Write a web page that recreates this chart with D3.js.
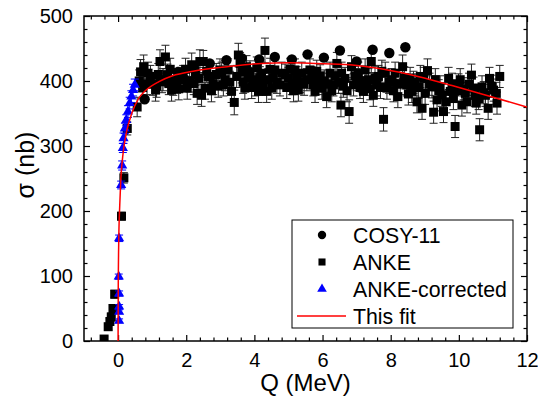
<!DOCTYPE html>
<html lang="en">
<head>
<meta charset="UTF-8">
<title>Cross section vs Q</title>
<script src="https://cdn.jsdelivr.net/npm/d3@7"></script>
<style>
  body { margin: 0; background: #fff; }
  svg text { font-family: "Liberation Sans", Arial, sans-serif; fill: #000; }
</style>
</head>
<body>
<div id="chart"></div>
<script>
// [Q (MeV), sigma (nb), error (nb)]
const cosyData = [
  [0.78, 372], [1.26, 400], [1.76, 414], [2.23, 420], [2.69, 427], [3.18, 432],
  [3.63, 435], [4.14, 433], [4.6, 437], [5.1, 433], [5.56, 441], [6.04, 436],
  [6.51, 447], [7.0, 430], [7.47, 448], [7.96, 443], [8.43, 452]
];

const ankeData = [
  [-0.41, 3, 4], [-0.29, 22, 5], [-0.24, 30, 5], [-0.2, 37, 6], [-0.15, 50, 6], [-0.1, 72, 6],
  [0.1, 192, 6], [0.17, 251, 8], [0.27, 327, 10], [0.56, 360, 15], [0.62, 400, 17],
  [0.66, 414, 19], [0.72, 390, 17], [0.75, 422, 18], [0.85, 396, 17], [0.88, 412, 17],
  [0.95, 407, 17], [1.02, 395, 17], [1.1, 386, 17], [1.13, 392, 17], [1.18, 410, 17],
  [1.23, 430, 18], [1.29, 399, 17], [1.32, 402, 17], [1.39, 437, 18], [1.45, 409, 17],
  [1.49, 396, 17], [1.53, 418, 17], [1.57, 386, 17], [1.62, 395, 17], [1.67, 402, 17],
  [1.73, 398, 17], [1.78, 388, 17], [1.83, 404, 17], [1.91, 407, 17], [1.93, 402, 17],
  [1.98, 418, 17], [2.03, 389, 17], [2.1, 400, 17], [2.16, 425, 18], [2.22, 396, 17],
  [2.27, 410, 17], [2.32, 381, 17], [2.37, 404, 17], [2.4, 430, 18], [2.45, 378, 17],
  [2.5, 430, 17], [2.55, 389, 17], [2.6, 415, 17], [2.64, 407, 17], [2.69, 407, 17],
  [2.74, 385, 17], [2.79, 396, 17], [2.88, 410, 17], [2.94, 392, 17], [2.99, 417, 17],
  [3.04, 412, 17], [3.09, 394, 17], [3.14, 402, 17], [3.23, 417, 17], [3.28, 398, 17],
  [3.33, 384, 17], [3.41, 367, 19], [3.48, 407, 17], [3.53, 440, 18], [3.58, 427, 17],
  [3.63, 414, 17], [3.67, 398, 17], [3.72, 389, 17], [3.77, 422, 17], [3.82, 404, 17],
  [3.87, 414, 17], [3.92, 390, 17], [3.97, 402, 17], [4.02, 394, 17], [4.07, 420, 17],
  [4.12, 384, 17], [4.16, 405, 17], [4.21, 412, 17], [4.26, 395, 17], [4.31, 447, 19],
  [4.36, 384, 17], [4.41, 402, 17], [4.46, 418, 17], [4.51, 389, 17], [4.55, 405, 17],
  [4.6, 417, 17], [4.66, 398, 17], [4.75, 394, 17], [4.8, 412, 17], [4.9, 409, 17],
  [4.95, 390, 17], [5.0, 404, 17], [5.05, 418, 17], [5.1, 396, 17], [5.15, 385, 17],
  [5.19, 417, 17], [5.24, 405, 17], [5.29, 386, 17], [5.34, 399, 17], [5.39, 412, 17],
  [5.46, 395, 17], [5.54, 402, 17], [5.63, 417, 17], [5.68, 405, 17], [5.73, 394, 17],
  [5.78, 384, 17], [5.83, 415, 17], [5.88, 396, 17], [5.93, 408, 17], [5.98, 389, 17],
  [6.05, 400, 17], [6.12, 376, 17], [6.17, 395, 17], [6.22, 412, 17], [6.27, 385, 17],
  [6.32, 394, 17], [6.37, 408, 17], [6.42, 427, 17], [6.47, 398, 17], [6.54, 363, 18],
  [6.56, 412, 17], [6.61, 392, 17], [6.66, 404, 17], [6.72, 385, 17], [6.78, 353, 18],
  [6.85, 422, 17], [6.91, 394, 17], [6.95, 408, 17], [7.0, 402, 17], [7.05, 412, 17],
  [7.1, 390, 17], [7.15, 400, 17], [7.2, 384, 17], [7.25, 417, 17], [7.3, 395, 17],
  [7.35, 402, 17], [7.4, 388, 17], [7.43, 430, 17], [7.49, 378, 17], [7.54, 405, 17],
  [7.59, 394, 17], [7.64, 407, 17], [7.7, 390, 17], [7.74, 415, 17], [7.79, 341, 18],
  [7.84, 412, 17], [7.89, 389, 17], [7.95, 398, 17], [8.03, 402, 17], [8.08, 385, 17],
  [8.13, 412, 17], [8.18, 395, 17], [8.21, 376, 17], [8.28, 396, 17], [8.35, 422, 18],
  [8.4, 405, 17], [8.47, 394, 17], [8.52, 380, 17], [8.57, 404, 17], [8.62, 384, 17],
  [8.67, 398, 17], [8.72, 394, 17], [8.77, 368, 17], [8.82, 390, 17], [8.87, 407, 17],
  [8.92, 358, 17], [8.97, 404, 17], [9.01, 381, 17], [9.08, 416, 18], [9.14, 395, 17],
  [9.21, 391, 17], [9.26, 352, 17], [9.31, 402, 17], [9.36, 371, 17], [9.41, 385, 17],
  [9.45, 391, 17], [9.5, 378, 17], [9.55, 353, 17], [9.63, 368, 17], [9.7, 404, 17],
  [9.75, 384, 17], [9.8, 395, 17], [9.84, 373, 17], [9.89, 330, 17], [9.94, 385, 17],
  [9.99, 394, 17], [10.04, 402, 17], [10.09, 363, 17], [10.14, 388, 17], [10.19, 381, 17],
  [10.24, 368, 17], [10.3, 395, 17], [10.37, 409, 17], [10.43, 389, 17], [10.47, 378, 17],
  [10.51, 366, 17], [10.58, 373, 17], [10.61, 325, 17], [10.68, 391, 17], [10.73, 382, 17],
  [10.78, 378, 17], [10.86, 358, 17], [10.9, 404, 17], [10.96, 392, 17], [11.02, 386, 17],
  [11.1, 381, 17], [11.12, 366, 17], [11.2, 407, 17]
];

const ankeCorrData = [
  [0.03, 31, 3], [0.03, 45, 3], [0.03, 53, 3], [0.03, 73, 4], [0.02, 99, 4], [0.03, 158, 5],
  [0.09, 240, 6], [0.12, 270, 7], [0.14, 297, 7], [0.16, 312, 8], [0.2, 327, 8],
  [0.24, 340, 8], [0.29, 353, 9], [0.34, 366, 9], [0.39, 376, 9], [0.44, 386, 9],
  [0.49, 394, 9]
];

// fit curve, points
const fitCurve = [
  [0, 0], [0.005, 80], [0.02, 155], [0.05, 210], [0.08, 248], [0.15, 290], [0.25, 322],
  [0.4, 350], [0.6, 373], [0.8, 385], [1.2, 399], [1.6, 408], [2.2, 415], [3.2, 422],
  [4.2, 427], [5.0, 428], [5.8, 427], [6.8, 425], [7.8, 418], [8.8, 407], [9.8, 393],
  [10.8, 378], [12, 360]
];

const xMajorTicks = [0, 2, 4, 6, 8, 10, 12];
const yMajorTicks = [0, 100, 200, 300, 400, 500];
const legendLabels = ['COSY-11', 'ANKE', 'ANKE-corrected', 'This fit'];

const width = 538, height = 404;
const margin = { left: 84, right: 11, top: 16, bottom: 63 };

const svg = d3.select('#chart').append('svg')
  .attr('width', width)
  .attr('height', height);

const x = d3.scaleLinear().domain([-1, 12]).range([margin.left, width - margin.right]);
const y = d3.scaleLinear().domain([0, 500]).range([height - margin.bottom, margin.top]);

const xMinorTicks = d3.range(-0.8, 12, 0.4).filter(v => Math.abs(v / 2 - Math.round(v / 2)) > 0.01);
const yMinorTicks = d3.range(20, 500, 20).filter(v => v % 100 !== 0);

svg.append('clipPath').attr('id', 'plot-clip')
  .append('rect')
  .attr('x', x(-1)).attr('y', y(500))
  .attr('width', x(12) - x(-1)).attr('height', y(0) - y(500));

// axes with inward ticks on all four sides
function drawAxes() {
  const g = svg.append('g').attr('class', 'axes');
  const bottom = y(0), top = y(500), left = x(-1), right = x(12);

  const xb = g.append('g').attr('transform', `translate(0,${bottom})`)
    .call(d3.axisBottom(x).tickValues(xMajorTicks).tickSizeInner(-6).tickSizeOuter(0).tickPadding(12));
  xb.selectAll('text').attr('font-size', '20px');
  g.append('g').attr('transform', `translate(0,${bottom})`)
    .call(d3.axisBottom(x).tickValues(xMinorTicks).tickSize(-3.5).tickFormat(''));
  g.append('g').attr('transform', `translate(0,${top})`)
    .call(d3.axisTop(x).tickValues(xMajorTicks).tickSize(-6).tickFormat(''));
  g.append('g').attr('transform', `translate(0,${top})`)
    .call(d3.axisTop(x).tickValues(xMinorTicks).tickSize(-3.5).tickFormat(''));

  const yl = g.append('g').attr('transform', `translate(${left},0)`)
    .call(d3.axisLeft(y).tickValues(yMajorTicks).tickSizeInner(-6).tickSizeOuter(0).tickPadding(11));
  yl.selectAll('text').attr('font-size', '20px');
  g.append('g').attr('transform', `translate(${left},0)`)
    .call(d3.axisLeft(y).tickValues(yMinorTicks).tickSize(-3.5).tickFormat(''));
  g.append('g').attr('transform', `translate(${right},0)`)
    .call(d3.axisRight(y).tickValues(yMajorTicks).tickSize(-6).tickFormat(''));
  g.append('g').attr('transform', `translate(${right},0)`)
    .call(d3.axisRight(y).tickValues(yMinorTicks).tickSize(-3.5).tickFormat(''));

  g.selectAll('.domain').remove();
  g.selectAll('line').attr('stroke', '#000').attr('stroke-width', 1.2);
  g.selectAll('text').style('font-family', '"Liberation Sans", Arial, sans-serif').attr('fill', '#000');

  g.append('rect')
    .attr('x', left).attr('y', top)
    .attr('width', right - left).attr('height', bottom - top)
    .attr('fill', 'none').attr('stroke', '#000').attr('stroke-width', 1.5);

  svg.append('text')
    .attr('x', (left + right) / 2).attr('y', 391)
    .attr('text-anchor', 'middle').attr('font-size', '24px')
    .text('Q (MeV)');
  svg.append('text')
    .attr('transform', 'translate(34,165) rotate(-90)')
    .attr('text-anchor', 'middle').attr('font-size', '25px')
    .text('σ (nb)');
}

function drawErrorBars(g, data, color) {
  data.filter(d => d[2]).forEach(d => {
    const cx = x(d[0]);
    const y1 = y(d[1] - d[2]), y2 = y(d[1] + d[2]);
    g.append('line').attr('x1', cx).attr('x2', cx).attr('y1', y1).attr('y2', y2)
      .attr('stroke', color).attr('stroke-width', 1);
    [y1, y2].forEach(yy => {
      g.append('line').attr('x1', cx - 4).attr('x2', cx + 4).attr('y1', yy).attr('y2', yy)
        .attr('stroke', color).attr('stroke-width', 1);
    });
  });
}

function drawSeries(g, data, symbolType, size, color) {
  g.selectAll(null).data(data).enter().append('path')
    .attr('d', d3.symbol().type(symbolType).size(size))
    .attr('transform', d => `translate(${x(d[0])},${y(d[1])})`)
    .attr('fill', color);
}

drawAxes();

const plot = svg.append('g').attr('clip-path', 'url(#plot-clip)');
drawErrorBars(plot, ankeData, '#222');
drawSeries(plot, ankeData, d3.symbolSquare, 81, '#000');
drawSeries(plot, cosyData, d3.symbolCircle, 85, '#000');
drawErrorBars(plot, ankeCorrData, '#0000ff');
drawSeries(plot, ankeCorrData, d3.symbolTriangle, 45, '#0000ff');

const line = d3.line().x(d => x(d[0])).y(d => y(d[1])).curve(d3.curveMonotoneX);
plot.append('path')
  .datum(fitCurve)
  .attr('d', line)
  .attr('fill', 'none')
  .attr('stroke', '#ff0000')
  .attr('stroke-width', 1.5);

// legend
const legend = svg.append('g').attr('class', 'legend');
legend.append('rect')
  .attr('x', 292).attr('y', 220).attr('width', 221).attr('height', 108)
  .attr('fill', '#fff').attr('stroke', '#000').attr('stroke-width', 1);
const legendSymbols = [
  { type: d3.symbolCircle, size: 55, color: '#000' },
  { type: d3.symbolSquare, size: 50, color: '#000' },
  { type: d3.symbolTriangle, size: 40, color: '#0000ff' },
  null
];
legendLabels.forEach((label, i) => {
  const ly = 235 + i * 27;
  const s = legendSymbols[i];
  if (s) {
    legend.append('path')
      .attr('d', d3.symbol().type(s.type).size(s.size))
      .attr('transform', `translate(322,${ly})`)
      .attr('fill', s.color);
  } else {
    legend.append('line')
      .attr('x1', 297).attr('x2', 346).attr('y1', ly).attr('y2', ly)
      .attr('stroke', '#ff0000').attr('stroke-width', 1.5);
  }
  legend.append('text')
    .attr('x', 353).attr('y', ly).attr('dy', '0.36em')
    .attr('font-size', '21.3px')
    .text(label);
});
</script>
</body>
</html>
